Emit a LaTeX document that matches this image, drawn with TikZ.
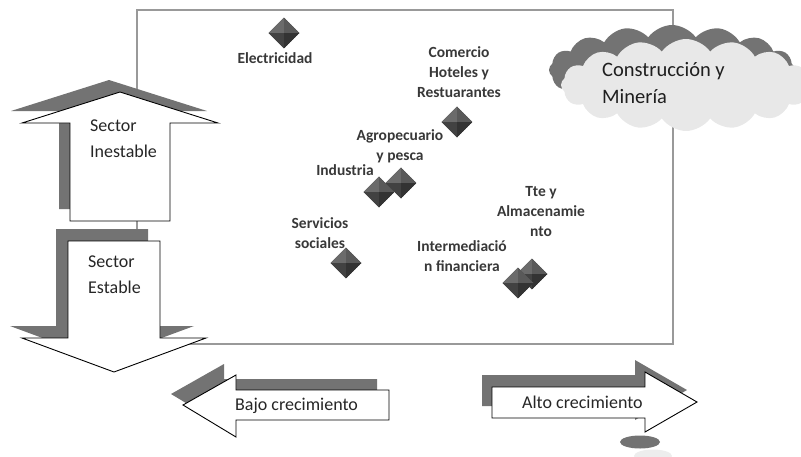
\documentclass[tikz,border=0pt]{standalone}
\usepackage{fontspec}
\setmainfont{Carlito}
\usetikzlibrary{shapes.geometric,shapes.symbols}
\tikzset{
  shadowfill/.style={fill=black!55, draw=none},
  arrowbody/.style={fill=white, draw=black, line width=0.9pt, line join=miter},
  arrowtext/.style={font=\fontsize{18}{25.5}\selectfont, text=black!85, align=left, inner sep=0pt},
  lbl/.style={font=\fontsize{15.5}{20}\selectfont\bfseries, text=black!78, align=center, inner sep=0pt},
  gem/.style={diamond, minimum width=31, minimum height=31, inner sep=0pt, fill=black!72,
    path picture={
      \fill[black!58] (path picture bounding box.west) -- (path picture bounding box.north) -- (path picture bounding box.center) -- cycle;
      \fill[black!65] (path picture bounding box.north) -- (path picture bounding box.east) -- (path picture bounding box.center) -- cycle;
      \fill[black!74] (path picture bounding box.west) -- (path picture bounding box.south) -- (path picture bounding box.center) -- cycle;
      \fill[black!80] (path picture bounding box.south) -- (path picture bounding box.east) -- (path picture bounding box.center) -- cycle;
    }},
  plotbox/.style={draw=black!40, line width=1.2pt}
}
\begin{document}
\begin{tikzpicture}[x=1pt,y=-1pt]
\useasboundingbox (0,0) rectangle (801,456);
% plot frame
\coordinate (bl) at (137,344);
\coordinate (tr) at (673,10);
\draw[plotbox] (bl) rectangle (tr);

% cloud
\node[cloud, cloud puffs=16, cloud puff arc=110, aspect=2.8, minimum width=246, minimum height=90, shadowfill] (cloudsh) at (672,70) {};
\node[cloud, cloud puffs=16, cloud puff arc=110, aspect=2.8, minimum width=250, minimum height=92, fill=black!9, draw=none] (cloud) at (686,85) {};
\node[font=\fontsize{20.5}{27}\selectfont, text=black!88, align=left, inner sep=0pt, anchor=west] (cloudtxt) at (602,83) {Construcción y\\Minería};

% up arrow (Sector Inestable)
\begin{scope}[shift={(-11,-12)}]
\fill[shadowfill] (120,92) -- (218,123) -- (170,123) -- (170,221) -- (70,221) -- (70,123) -- (22,123) -- cycle;
\end{scope}
\draw[arrowbody] (120,92) -- (218,123) -- (170,123) -- (170,221) -- (70,221) -- (70,123) -- (22,123) -- cycle;
\node[arrowtext, anchor=north west] (inest) at (90,120) {Sector\\Inestable};

% down arrow (Sector Estable)
\begin{scope}[shift={(-12,-12)}]
\fill[shadowfill] (68,241) -- (160,241) -- (160,338) -- (206,338) -- (114,372) -- (22,338) -- (68,338) -- cycle;
\end{scope}
\draw[arrowbody] (68,241) -- (160,241) -- (160,338) -- (206,338) -- (114,372) -- (22,338) -- (68,338) -- cycle;
\node[arrowtext, anchor=north west] (estab) at (88,256) {Sector\\Estable};

% left arrow (Bajo crecimiento)
\begin{scope}[shift={(-12,-11)}]
\fill[shadowfill] (183,405) -- (236,375) -- (236,390) -- (389,390) -- (389,420) -- (236,420) -- (236,437) -- cycle;
\end{scope}
\draw[arrowbody] (183,405) -- (236,375) -- (236,390) -- (389,390) -- (389,420) -- (236,420) -- (236,437) -- cycle;
\node[arrowtext, anchor=west] (bajo) at (235,406) {Bajo crecimiento};

% right arrow (Alto crecimiento)
\begin{scope}[shift={(-10,-12)}]
\fill[shadowfill] (492,387) -- (645,387) -- (645,372) -- (697,402) -- (645,432) -- (645,418) -- (492,418) -- cycle;
\end{scope}
\draw[arrowbody] (492,387) -- (645,387) -- (645,372) -- (697,402) -- (645,432) -- (645,418) -- (492,418) -- cycle;
\node[arrowtext, anchor=west] (alto) at (522,402) {Alto crecimiento};

% callout bubbles
\node[ellipse, minimum width=40, minimum height=13, inner sep=0pt, shadowfill] (bub1) at (640,442) {};
\node[ellipse, minimum width=38, minimum height=13, inner sep=0pt, fill=black!7, draw=none] (bub2) at (653,456) {};

% diamonds
\node[gem] (gelec) at (284,33) {};
\node[gem] (gcom) at (457,122) {};
\node[gem] (gind) at (379,192) {};
\node[gem] (gagro) at (401,183) {};
\node[gem] (gserv) at (346,263) {};
\node[gem] (gtte) at (532,274) {};
\node[gem] (gfin) at (518,283) {};

% labels
\node[lbl] (lelec) at (275,58) {Electricidad};
\node[lbl] (lcom) at (459,72) {Comercio\\Hoteles y\\Restuarantes};
\node[lbl] (lagro) at (400,146) {Agropecuario\\y pesca};
\node[lbl] (lind) at (345,170) {Industria};
\node[lbl] (lserv) at (320,233) {Servicios\\sociales};
\node[lbl] (lfin) at (462,256) {Intermediació\\n financiera};
\node[lbl] (ltte) at (541,212) {Tte y\\Almacenamie\\nto};
\end{tikzpicture}
\end{document}
